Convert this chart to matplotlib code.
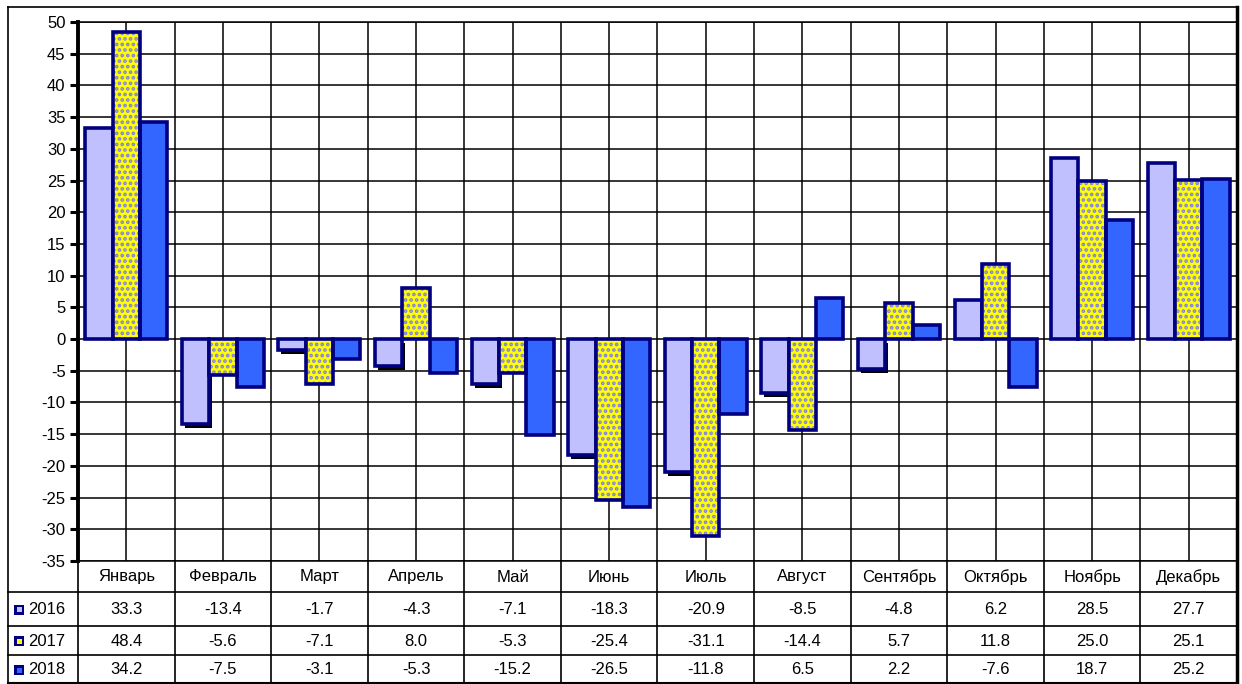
import matplotlib
matplotlib.use('Agg')
import matplotlib.pyplot as plt
import numpy as np
from matplotlib import transforms
from matplotlib.patches import Rectangle
from matplotlib.lines import Line2D

months = ['Январь', 'Февраль', 'Март', 'Апрель', 'Май', 'Июнь', 'Июль',
          'Август', 'Сентябрь', 'Октябрь', 'Ноябрь', 'Декабрь']
years = ['2016', '2017', '2018']
v2016 = [33.3, -13.4, -1.7, -4.3, -7.1, -18.3, -20.9, -8.5, -4.8, 6.2, 28.5, 27.7]
v2017 = [48.4, -5.6, -7.1, 8.0, -5.3, -25.4, -31.1, -14.4, 5.7, 11.8, 25.0, 25.1]
v2018 = [34.2, -7.5, -3.1, -5.3, -15.2, -26.5, -11.8, 6.5, 2.2, -7.6, 18.7, 25.2]
yticks = list(range(-35, 51, 5))

W, H = 1242, 684
plt.rcParams['font.family'] = ['Liberation Sans', 'DejaVu Sans']
plt.rcParams['hatch.linewidth'] = 1.8

fig = plt.figure(figsize=(W / 100, H / 100), dpi=100, facecolor='white')


def fx(px):
    return px / W


def fy(py):
    return 1 - py / H


ax = fig.add_axes([fx(78), fy(561), fx(1237) - fx(78), fy(22) - fy(561)])
x = np.arange(len(months))
bw = 0.283
navy = '#000080'
c16, c17, c18 = '#c0c0ff', '#ffff00', '#3366ff'
hatchc = '#8080e8'

# shadow for 2016 series
shadow_tr = transforms.offset_copy(ax.transData, fig=fig, x=3, y=-4, units='dots')
ax.bar(x - bw, np.minimum(v2016, 0), bw, color='black', linewidth=0,
       transform=shadow_tr, zorder=2)
ax.bar(x - bw, v2016, bw, color=c16, edgecolor=navy, linewidth=2.6, zorder=3)
ax.bar(x, v2017, bw, color=c17, edgecolor=hatchc, hatch='...', linewidth=0, zorder=3)
ax.bar(x, v2017, bw, color='none', edgecolor=navy, linewidth=2.6, zorder=3.1)
ax.bar(x + bw, v2018, bw, color=c18, edgecolor=navy, linewidth=2.6, zorder=3)

ax.set_xlim(-0.5, len(months) - 0.5)
ax.set_ylim(-35, 50)
ax.set_yticks(yticks)
ax.set_yticklabels([str(t) for t in yticks])
ax.set_xticks(np.arange(-0.5, len(months), 0.5))
ax.tick_params(axis='x', length=0, labelbottom=False)
ax.tick_params(axis='y', direction='out', length=6, width=2.2, labelsize=12, pad=3,
               color='black')
ax.grid(True, color='black', linewidth=1.1)
ax.set_axisbelow(True)
for s in ['top', 'bottom', 'right']:
    ax.spines[s].set_linewidth(1.1)
ax.spines['left'].set_linewidth(2.8)

# outer frame
frame_kw = dict(transform=fig.transFigure, color='black')
fig.add_artist(Line2D([fx(8), fx(1237)], [fy(7), fy(7)], lw=1.2, **frame_kw))
fig.add_artist(Line2D([fx(8), fx(8)], [fy(7), fy(684)], lw=1.2, **frame_kw))
fig.add_artist(Line2D([fx(1237), fx(1237)], [fy(7), fy(684)], lw=2.5, **frame_kw))
fig.add_artist(Line2D([fx(8), fx(1237)], [fy(683), fy(683)], lw=1.5, **frame_kw))

# table
blend = transforms.blended_transform_factory(ax.transData, fig.transFigure)
row_lines = [592, 626, 655]
for ry in row_lines:
    fig.add_artist(Line2D([fx(8), fx(1237)], [fy(ry), fy(ry)], lw=1.2, **frame_kw))
for b in np.arange(-0.5, len(months), 1.0):
    fig.add_artist(Line2D([b, b], [fy(561), fy(684)], transform=blend,
                          color='black', lw=1.2))

header_y = 577
row_y = [609.5, 641, 670]
for i, m in enumerate(months):
    fig.text(i, fy(header_y), m, transform=blend, ha='center', va='center',
             fontsize=12)
for r, vals in enumerate([v2016, v2017, v2018]):
    for i, v in enumerate(vals):
        fig.text(i, fy(row_y[r]), f'{v:.1f}', transform=blend, ha='center',
                 va='center', fontsize=12)

key_colors = [c16, c17, c18]
for r, (yr, kc) in enumerate(zip(years, key_colors)):
    cy = row_y[r]
    fig.add_artist(Rectangle((fx(14), fy(cy + 5)), fx(10), 10 / H,
                             transform=fig.transFigure, facecolor=navy,
                             edgecolor='none'))
    fig.add_artist(Rectangle((fx(16.5), fy(cy + 2.5)), fx(5), 5 / H,
                             transform=fig.transFigure, facecolor=kc,
                             edgecolor='none'))
    fig.text(fx(28), fy(cy), yr, ha='left', va='center', fontsize=12)

fig.savefig('out.png', dpi=100, facecolor='white')
